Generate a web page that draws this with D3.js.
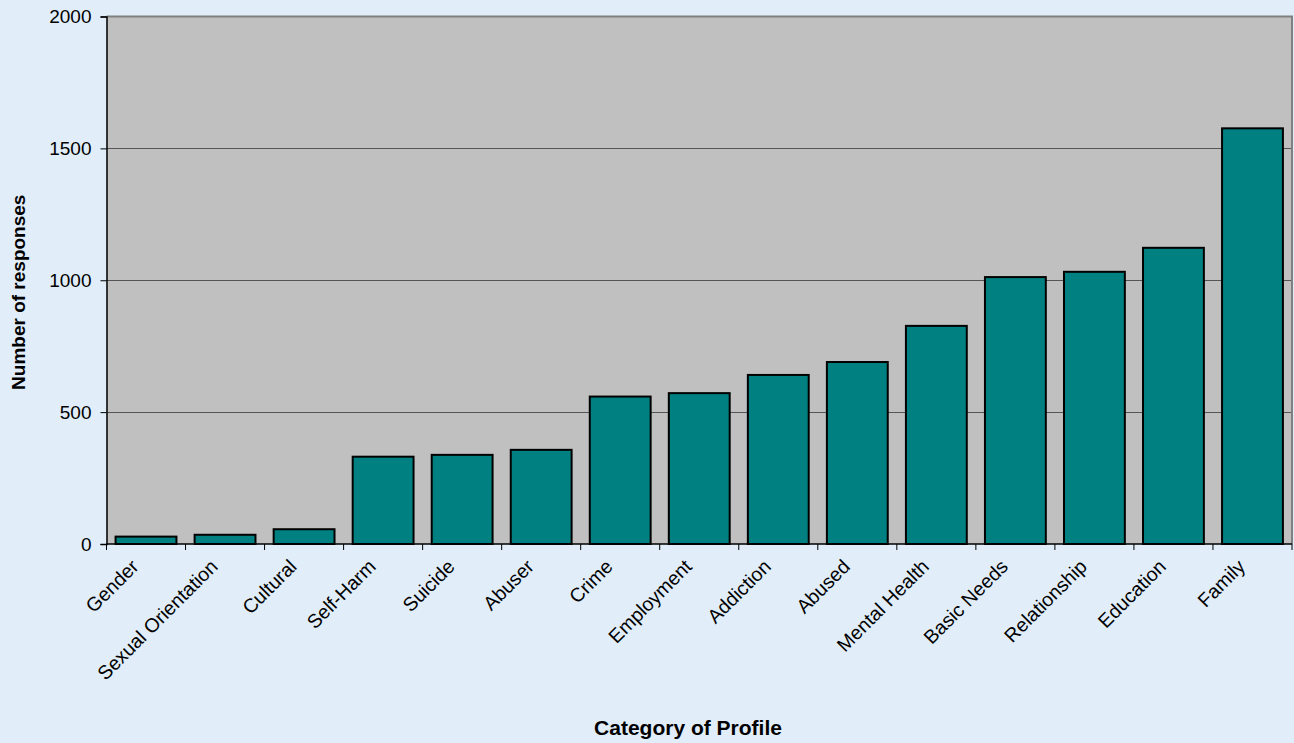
<!DOCTYPE html>
<html>
<head>
<meta charset="utf-8">
<script src="https://cdn.jsdelivr.net/npm/d3@7"></script>
<style>
  html, body { margin: 0; padding: 0; background: #e1eef9; }
  svg { display: block; font-family: "Liberation Sans", Arial, sans-serif; }
</style>
</head>
<body>
<svg id="chart" width="1294" height="743"></svg>
<script>
// Profile categories and how many responses each received
const categories = ["Gender", "Sexual Orientation", "Cultural", "Self-Harm", "Suicide", "Abuser",
  "Crime", "Employment", "Addiction", "Abused", "Mental Health", "Basic Needs",
  "Relationship", "Education", "Family"];
const responses = [28, 35, 56, 331, 338, 357, 559, 572, 641, 690, 827, 1012, 1032, 1123, 1576];
const yTicks = [0, 500, 1000, 1500, 2000];

const svg = d3.select("#chart");
const plot = { left: 106.5, right: 1292, top: 16.5, bottom: 544 };

const x = d3.scaleBand()
  .domain(categories)
  .range([plot.left, plot.right])
  .paddingInner(0.23)
  .paddingOuter(0.115);

const y = d3.scaleLinear()
  .domain([0, 2000])
  .range([plot.bottom, plot.top]);

// plot area background
svg.append("rect")
  .attr("x", plot.left).attr("y", plot.top)
  .attr("width", plot.right - plot.left).attr("height", plot.bottom - plot.top)
  .attr("fill", "#c0c0c0");

// horizontal gridlines
svg.append("g")
  .selectAll("line")
  .data(yTicks.filter(t => t > 0 && t < 2000))
  .join("line")
  .attr("x1", plot.left).attr("x2", plot.right)
  .attr("y1", d => Math.round(y(d)) + 0.5).attr("y2", d => Math.round(y(d)) + 0.5)
  .attr("stroke", "#555555").attr("stroke-width", 1);

// plot frame: top and right edges in grey
svg.append("path")
  .attr("d", `M${plot.left},${plot.top}H${plot.right}V${plot.bottom}`)
  .attr("fill", "none").attr("stroke", "#808080").attr("stroke-width", 2);

// bars
svg.append("g")
  .selectAll("rect")
  .data(categories.map((c, i) => ({ c, v: responses[i] })))
  .join("rect")
  .attr("x", d => x(d.c))
  .attr("y", d => y(d.v))
  .attr("width", x.bandwidth())
  .attr("height", d => y(0) - y(d.v))
  .attr("fill", "#008080")
  .attr("stroke", "#000")
  .attr("stroke-width", 2);

// y axis
const yAxis = d3.axisLeft(y).tickValues(yTicks).tickSize(6).tickPadding(9).tickFormat(d3.format("d"));
const gy = svg.append("g").attr("transform", `translate(${plot.left},0)`).call(yAxis);
gy.select(".domain").attr("stroke", "#000").attr("stroke-width", 1.5);
gy.selectAll(".tick line").attr("stroke", "#000");
gy.selectAll(".tick text").attr("font-size", 19).attr("fill", "#000")
  .attr("font-family", "Liberation Sans, Arial, sans-serif");

// x axis baseline with ticks at category boundaries
const step = x.step();
const boundaries = d3.range(categories.length + 1).map(i => plot.left + i * step);
svg.append("line")
  .attr("x1", plot.left).attr("x2", plot.right)
  .attr("y1", plot.bottom).attr("y2", plot.bottom)
  .attr("stroke", "#000").attr("stroke-width", 1.5);
svg.append("g")
  .selectAll("line")
  .data(boundaries)
  .join("line")
  .attr("x1", d => d).attr("x2", d => d)
  .attr("y1", plot.bottom).attr("y2", plot.bottom + 6)
  .attr("stroke", "#000").attr("stroke-width", 1);

// rotated category labels
svg.append("g")
  .selectAll("text")
  .data(categories)
  .join("text")
  .attr("transform", d => `translate(${x(d) + x.bandwidth() / 2 - 11},${plot.bottom + 19}) rotate(-45)`)
  .attr("text-anchor", "end")
  .attr("dy", "0.35em")
  .attr("font-size", 19.5)
  .attr("fill", "#000")
  .text(d => d);

// axis titles
svg.append("text")
  .attr("transform", `translate(25,${(plot.top + plot.bottom) / 2 + 12}) rotate(-90)`)
  .attr("text-anchor", "middle")
  .attr("font-size", 19).attr("font-weight", "bold")
  .text("Number of responses");

svg.append("text")
  .attr("x", 688).attr("y", 735)
  .attr("text-anchor", "middle")
  .attr("font-size", 21).attr("font-weight", "bold")
  .text("Category of Profile");
</script>
</body>
</html>
